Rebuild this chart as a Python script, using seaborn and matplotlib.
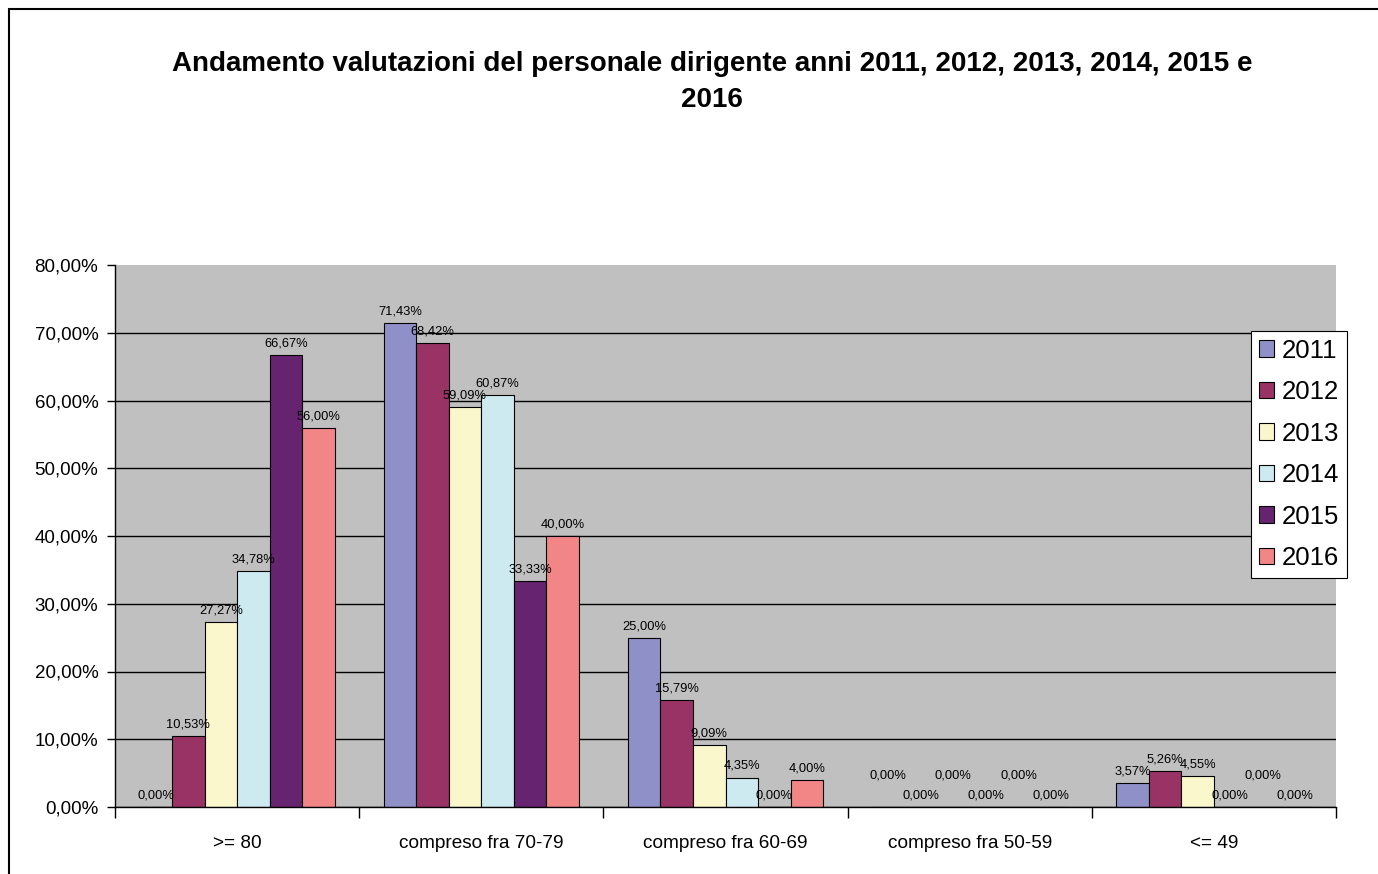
import matplotlib
matplotlib.use("Agg")
import matplotlib.pyplot as plt
import seaborn as sns
import pandas as pd
from matplotlib.ticker import FuncFormatter, FixedLocator
from matplotlib.patches import Rectangle

categories = [">= 80", "compreso fra 70-79", "compreso fra 60-69", "compreso fra 50-59", "<= 49"]
years = ["2011", "2012", "2013", "2014", "2015", "2016"]
v2011 = [0.00, 71.43, 25.00, 0.00, 3.57]
v2012 = [10.53, 68.42, 15.79, 0.00, 5.26]
v2013 = [27.27, 59.09, 9.09, 0.00, 4.55]
v2014 = [34.78, 60.87, 4.35, 0.00, 0.00]
v2015 = [66.67, 33.33, 0.00, 0.00, 0.00]
v2016 = [56.00, 40.00, 4.00, 0.00, 0.00]
colors = ["#9090C8", "#993366", "#FAF7CD", "#CCEAF0", "#662370", "#F28585"]
title = "Andamento valutazioni del personale dirigente anni 2011, 2012, 2013, 2014, 2015 e\n2016"

series = [v2011, v2012, v2013, v2014, v2015, v2016]
rows = []
for y, vals in zip(years, series):
    for c, v in zip(categories, vals):
        rows.append({"cat": c, "year": y, "val": v})
df = pd.DataFrame(rows)

plt.rcParams["font.family"] = ["Liberation Sans", "DejaVu Sans"]

fig = plt.figure(figsize=(13.78, 8.74), dpi=100)
ax = fig.add_axes([115/1378, 1-807/874, (1336-115)/1378, (807-265)/874])
ax.set_facecolor("#C0C0C0")

sns.barplot(data=df, x="cat", y="val", hue="year", order=categories, hue_order=years,
            palette=colors, saturation=1, width=0.8, edgecolor="black", linewidth=0.8,
            ax=ax, legend=True, errorbar=None)

ax.set_ylim(0, 80)
ax.set_xlim(-0.5, len(categories) - 0.5)
ax.yaxis.set_major_locator(FixedLocator([0, 10, 20, 30, 40, 50, 60, 70, 80]))
ax.yaxis.set_major_formatter(FuncFormatter(lambda v, p: f"{v:.2f}%".replace(".", ",")))
ax.grid(axis="y", color="black", linewidth=1)
ax.get_ygridlines()[-1].set_visible(False)
ax.set_axisbelow(True)
ax.set_xlabel("")
ax.set_ylabel("")
for s in ["top", "right"]:
    ax.spines[s].set_visible(False)
for s in ["left", "bottom"]:
    ax.spines[s].set_color("black")
    ax.spines[s].set_linewidth(1)
ax.tick_params(axis="y", labelsize=13.5, length=6, width=1, direction="out", pad=6)
ax.tick_params(axis="x", which="major", labelsize=13.7, length=0, pad=20)
ax.xaxis.set_minor_locator(FixedLocator([i - 0.5 for i in range(len(categories) + 1)]))
ax.tick_params(axis="x", which="minor", length=8, width=1, direction="out")

# data labels (zero labels alternate height like the original)
nY = len(years)
for hi, cont in enumerate(ax.containers):
    vals = series[hi]
    for ci, (bar, v) in enumerate(zip(cont, vals)):
        pad = 4
        nxt = series[hi + 1][ci] if hi + 1 < nY else None
        if v == 0 and nxt == 0 and hi % 2 == 0:
            pad = 18
        ax.annotate(f"{v:.2f}%".replace(".", ","),
                    xy=(bar.get_x() + bar.get_width() / 2, bar.get_height()),
                    xytext=(0, pad), textcoords="offset points",
                    ha="center", va="bottom", fontsize=9.3)

leg = ax.get_legend()
handles = leg.legend_handles
leg.remove()
leg = ax.legend(handles, years, loc="upper left", bbox_to_anchor=(1251/1378, 1-331/874),
                bbox_transform=fig.transFigure, borderaxespad=0, fontsize=18.5,
                frameon=True, fancybox=False, edgecolor="black", framealpha=1,
                handlelength=0.6, handleheight=0.6, handletextpad=0.3,
                labelspacing=0.68, borderpad=0.3)
leg.get_frame().set_linewidth(0.8)

fig.text(712/1378, 1-82/874, title, ha="center", va="center", fontsize=20,
         fontweight="bold", linespacing=1.5)

fig.patches.append(Rectangle((8.5/1378, -0.1), 1.2, 1.1 - 9.5/874, transform=fig.transFigure,
                             fill=False, edgecolor="black", linewidth=1.5))

fig.savefig("out.png", dpi=100)
